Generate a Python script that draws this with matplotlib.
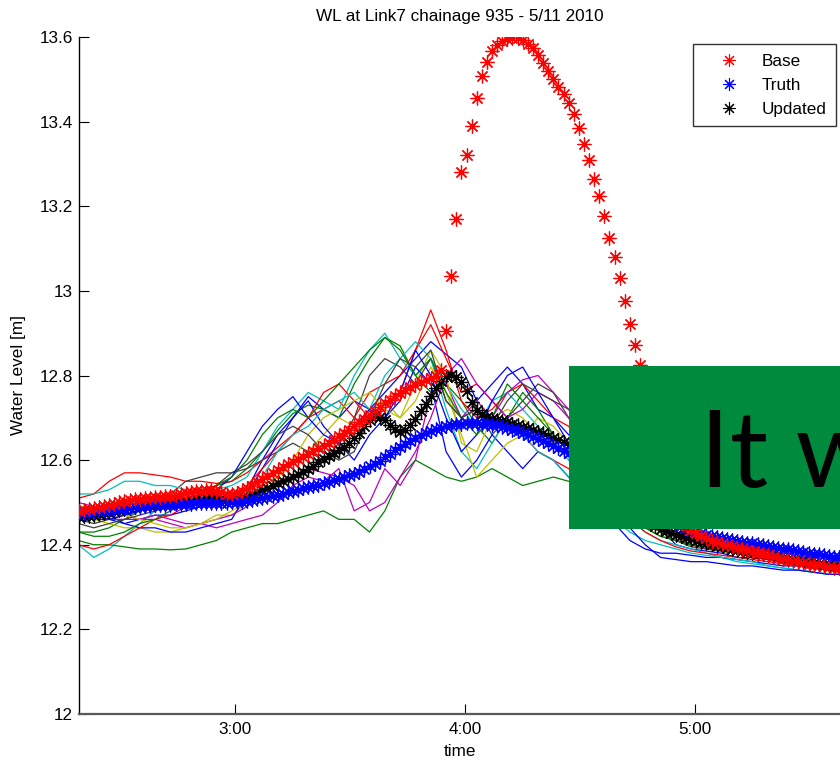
import numpy as np
import matplotlib
matplotlib.use('Agg')
import matplotlib.pyplot as plt
from matplotlib.patches import Rectangle
from matplotlib.lines import Line2D

# ---------------- data ----------------
title = "WL at Link7 chainage 935 - 5/11 2010"
x_tick_values = [3, 4, 5]
x_tick_labels = ["3:00", "4:00", "5:00"]
y_tick_values = [12.0, 12.2, 12.4, 12.6, 12.8, 13.0, 13.2, 13.4, 13.6]
y_tick_labels = ["12", "12.2", "12.4", "12.6", "12.8", "13", "13.2", "13.4", "13.6"]

t_start_h = 2 + 19 / 60      # 2:19
main_step_h = 80 / 3600      # 80 s sampling
ens_step_h = 240 / 3600      # 4 min sampling for ensemble members

base = [12.480, 12.482, 12.484, 12.487, 12.489, 12.491, 12.494, 12.497, 12.500, 12.503,
        12.505, 12.507, 12.508, 12.510, 12.511, 12.512, 12.513, 12.515, 12.516, 12.518,
        12.520, 12.522, 12.524, 12.526, 12.528, 12.529, 12.529, 12.527, 12.524, 12.521,
        12.520, 12.522, 12.527, 12.533, 12.540, 12.548, 12.555, 12.563, 12.570, 12.577,
        12.584, 12.590, 12.596, 12.602, 12.608, 12.614, 12.621, 12.628, 12.634, 12.641,
        12.648, 12.656, 12.664, 12.672, 12.680, 12.689, 12.698, 12.707, 12.716, 12.726,
        12.735, 12.743, 12.751, 12.758, 12.765, 12.772, 12.778, 12.784, 12.789, 12.794,
        12.800, 12.812, 12.905, 13.035, 13.170, 13.280, 13.322, 13.390, 13.455, 13.508,
        13.540, 13.568, 13.582, 13.590, 13.596, 13.598, 13.597, 13.592, 13.584, 13.573,
        13.557, 13.538, 13.519, 13.500, 13.481, 13.465, 13.445, 13.418, 13.384, 13.348,
        13.310, 13.265, 13.225, 13.176, 13.126, 13.080, 13.030, 12.975, 12.922, 12.873,
        12.825, 12.770, 12.718, 12.665, 12.615, 12.565, 12.522, 12.488, 12.464, 12.447,
        12.435, 12.427, 12.420, 12.415, 12.410, 12.406, 12.402, 12.399, 12.396, 12.393,
        12.390, 12.387, 12.384, 12.381, 12.378, 12.375, 12.372, 12.369, 12.366, 12.363,
        12.361, 12.359, 12.357, 12.355, 12.353, 12.351, 12.349, 12.348, 12.346, 12.345,
        12.344, 12.343]

truth = [12.475, 12.476, 12.477, 12.478, 12.480, 12.481, 12.482, 12.484, 12.485, 12.487,
         12.488, 12.489, 12.490, 12.491, 12.492, 12.493, 12.494, 12.495, 12.495, 12.496,
         12.496, 12.497, 12.497, 12.498, 12.498, 12.498, 12.498, 12.498, 12.498, 12.499,
         12.500, 12.501, 12.502, 12.504, 12.506, 12.508, 12.510, 12.513, 12.515, 12.518,
         12.521, 12.524, 12.527, 12.530, 12.533, 12.536, 12.539, 12.542, 12.545, 12.548,
         12.552, 12.556, 12.560, 12.564, 12.568, 12.573, 12.579, 12.585, 12.592, 12.599,
         12.607, 12.615, 12.623, 12.631, 12.639, 12.646, 12.653, 12.659, 12.664, 12.669,
         12.673, 12.677, 12.680, 12.683, 12.685, 12.686, 12.687, 12.687, 12.687, 12.686,
         12.685, 12.684, 12.682, 12.679, 12.675, 12.672, 12.669, 12.665, 12.660, 12.655,
         12.650, 12.645, 12.640, 12.634, 12.628, 12.622, 12.616, 12.610, 12.603, 12.596,
         12.588, 12.580, 12.571, 12.562, 12.553, 12.544, 12.535, 12.526, 12.517, 12.508,
         12.499, 12.491, 12.483, 12.475, 12.468, 12.461, 12.455, 12.449, 12.444, 12.439,
         12.433, 12.430, 12.427, 12.424, 12.421, 12.418, 12.416, 12.413, 12.411, 12.409,
         12.407, 12.405, 12.403, 12.401, 12.399, 12.397, 12.395, 12.393, 12.391, 12.389,
         12.387, 12.385, 12.383, 12.381, 12.379, 12.377, 12.375, 12.373, 12.372, 12.371,
         12.370, 12.369]

updated = [12.466, 12.467, 12.469, 12.470, 12.472, 12.474, 12.477, 12.479, 12.482, 12.485,
           12.487, 12.489, 12.491, 12.492, 12.494, 12.495, 12.497, 12.498, 12.499, 12.500,
           12.501, 12.503, 12.505, 12.507, 12.509, 12.511, 12.512, 12.512, 12.511, 12.510,
           12.510, 12.511, 12.513, 12.516, 12.520, 12.525, 12.530, 12.535, 12.540, 12.545,
           12.550, 12.555, 12.561, 12.567, 12.573, 12.579, 12.587, 12.595, 12.603, 12.610,
           12.617, 12.624, 12.632, 12.640, 12.652, 12.665, 12.680, 12.694, 12.704, 12.702,
           12.694, 12.684, 12.673, 12.666, 12.672, 12.684, 12.698, 12.715, 12.733, 12.752,
           12.770, 12.786, 12.798, 12.802, 12.797, 12.785, 12.764, 12.738, 12.718, 12.708,
           12.702, 12.698, 12.695, 12.692, 12.689, 12.686, 12.683, 12.679, 12.675, 12.671,
           12.667, 12.663, 12.658, 12.653, 12.648, 12.642, 12.636, 12.629, 12.620, 12.610,
           12.598, 12.585, 12.571, 12.557, 12.542, 12.528, 12.514, 12.501, 12.489, 12.478,
           12.468, 12.459, 12.451, 12.444, 12.438, 12.433, 12.428, 12.424, 12.420, 12.416,
           12.413, 12.410, 12.407, 12.404, 12.401, 12.398, 12.396, 12.393, 12.391, 12.388,
           12.386, 12.384, 12.381, 12.379, 12.377, 12.375, 12.373, 12.371, 12.369, 12.367,
           12.365, 12.363, 12.361, 12.359, 12.357, 12.355, 12.353, 12.351, 12.349, 12.348,
           12.347, 12.346]

# ensemble members (4-minute samples)
ens_b1 = [12.47, 12.46, 12.46, 12.45, 12.46, 12.47, 12.47, 12.48, 12.49, 12.50, 12.50,
          12.53, 12.60, 12.66, 12.70, 12.75, 12.72, 12.70,
          12.74, 12.72, 12.76, 12.80, 12.84, 12.88, 12.85, 12.82,
          12.74, 12.78, 12.82, 12.78, 12.72, 12.70, 12.66,
          12.62, 12.58, 12.55, 12.52, 12.48, 12.44, 12.40, 12.39,
          12.385, 12.38, 12.37, 12.37, 12.365, 12.36, 12.355, 12.35, 12.35, 12.345]
ens_g1 = [12.43, 12.43, 12.44, 12.46, 12.48, 12.50, 12.51, 12.52, 12.53, 12.54, 12.55,
          12.58, 12.62, 12.67, 12.71, 12.73, 12.72, 12.70,
          12.78, 12.84, 12.89, 12.87, 12.80, 12.76, 12.78, 12.74,
          12.68, 12.64, 12.70, 12.76, 12.72, 12.66, 12.62,
          12.58, 12.55, 12.52, 12.49, 12.46, 12.43, 12.41, 12.40,
          12.395, 12.39, 12.385, 12.38, 12.375, 12.37, 12.365, 12.36, 12.355, 12.35]
ens_r1 = [12.51, 12.52, 12.55, 12.57, 12.57, 12.565, 12.56, 12.55, 12.55, 12.545, 12.55,
          12.57, 12.60, 12.63, 12.66, 12.70, 12.72, 12.74,
          12.70, 12.76, 12.78, 12.80, 12.86, 12.955, 12.86, 12.74,
          12.70, 12.72, 12.76, 12.78, 12.74, 12.70, 12.68,
          12.64, 12.60, 12.56, 12.52, 12.48, 12.45, 12.42, 12.40,
          12.39, 12.385, 12.38, 12.375, 12.37, 12.365, 12.36, 12.355, 12.35, 12.345]
ens_c1 = [12.40, 12.37, 12.39, 12.42, 12.45, 12.48, 12.50, 12.52, 12.53, 12.53, 12.54,
          12.56, 12.62, 12.68, 12.72, 12.76, 12.74, 12.72,
          12.80, 12.86, 12.90, 12.84, 12.80, 12.84, 12.78, 12.72,
          12.68, 12.74, 12.76, 12.72, 12.68, 12.64, 12.60,
          12.56, 12.52, 12.49, 12.46, 12.43, 12.41, 12.40, 12.39,
          12.38, 12.37, 12.36, 12.355, 12.35, 12.345, 12.34, 12.335, 12.33, 12.33]
ens_m1 = [12.50, 12.49, 12.48, 12.47, 12.46, 12.46, 12.45, 12.44, 12.45, 12.44, 12.45,
          12.46, 12.47, 12.50, 12.54, 12.56, 12.55, 12.58,
          12.48, 12.50, 12.58, 12.54, 12.60, 12.76, 12.78, 12.70,
          12.74, 12.70, 12.76, 12.79, 12.80, 12.76, 12.72,
          12.68, 12.62, 12.57, 12.52, 12.48, 12.45, 12.43, 12.42,
          12.41, 12.40, 12.395, 12.39, 12.385, 12.38, 12.375, 12.37, 12.365, 12.36]
ens_y1 = [12.46, 12.46, 12.45, 12.44, 12.44, 12.43, 12.43, 12.44, 12.45, 12.47, 12.47,
          12.50, 12.54, 12.56, 12.60, 12.62, 12.66, 12.70,
          12.68, 12.72, 12.74, 12.70, 12.78, 12.86, 12.80, 12.64,
          12.62, 12.70, 12.72, 12.70, 12.66, 12.64, 12.62,
          12.58, 12.54, 12.51, 12.48, 12.45, 12.43, 12.41, 12.40,
          12.39, 12.385, 12.38, 12.375, 12.37, 12.365, 12.36, 12.355, 12.35, 12.35]
ens_k1 = [12.46, 12.45, 12.46, 12.47, 12.48, 12.50, 12.52, 12.55, 12.56, 12.57, 12.57,
          12.58, 12.60, 12.62, 12.64, 12.62, 12.60, 12.64,
          12.70, 12.80, 12.84, 12.82, 12.78, 12.84, 12.74, 12.70,
          12.72, 12.66, 12.70, 12.74, 12.78, 12.76, 12.70,
          12.64, 12.58, 12.54, 12.50, 12.46, 12.43, 12.41, 12.395,
          12.39, 12.385, 12.38, 12.375, 12.37, 12.365, 12.36, 12.355, 12.35, 12.345]
ens_b2 = [12.49, 12.48, 12.47, 12.45, 12.44, 12.44, 12.43, 12.43, 12.44, 12.45, 12.46,
          12.52, 12.58, 12.64, 12.70, 12.74, 12.68, 12.64,
          12.60, 12.66, 12.70, 12.74, 12.82, 12.78, 12.62, 12.56,
          12.60, 12.66, 12.62, 12.58, 12.62, 12.60, 12.56,
          12.52, 12.48, 12.45, 12.41, 12.39, 12.38, 12.38, 12.375,
          12.37, 12.37, 12.365, 12.36, 12.355, 12.35, 12.35, 12.345, 12.34, 12.34]
ens_g2 = [12.41, 12.40, 12.40, 12.395, 12.39, 12.39, 12.388, 12.39, 12.40, 12.41, 12.43,
          12.44, 12.45, 12.45, 12.46, 12.47, 12.48, 12.46,
          12.46, 12.43, 12.48, 12.56, 12.60, 12.58, 12.56, 12.55,
          12.56, 12.58, 12.56, 12.54, 12.55, 12.56, 12.55,
          12.54, 12.51, 12.48, 12.46, 12.44, 12.42, 12.41, 12.40,
          12.395, 12.39, 12.385, 12.38, 12.375, 12.37, 12.365, 12.36, 12.36, 12.355]
ens_r2 = [12.40, 12.39, 12.40, 12.42, 12.44, 12.46, 12.47, 12.49, 12.50, 12.52, 12.52,
          12.54, 12.58, 12.62, 12.66, 12.70, 12.76, 12.78,
          12.74, 12.70, 12.72, 12.76, 12.86, 12.92, 12.84, 12.76,
          12.78, 12.74, 12.70, 12.66, 12.62, 12.60, 12.58,
          12.55, 12.52, 12.49, 12.46, 12.43, 12.41, 12.395, 12.385,
          12.38, 12.375, 12.37, 12.365, 12.36, 12.355, 12.35, 12.345, 12.34, 12.34]
ens_c2 = [12.52, 12.52, 12.53, 12.55, 12.55, 12.54, 12.54, 12.53, 12.53, 12.52, 12.50,
          12.52, 12.56, 12.62, 12.66, 12.68, 12.72, 12.74,
          12.76, 12.72, 12.80, 12.84, 12.88, 12.84, 12.72, 12.62,
          12.58, 12.64, 12.70, 12.66, 12.62, 12.60, 12.56,
          12.52, 12.49, 12.46, 12.43, 12.41, 12.40, 12.39, 12.38,
          12.375, 12.37, 12.365, 12.36, 12.35, 12.345, 12.34, 12.335, 12.33, 12.33]
ens_m2 = [12.47, 12.47, 12.46, 12.46, 12.46, 12.47, 12.46, 12.45, 12.45, 12.46, 12.47,
          12.49, 12.52, 12.55, 12.56, 12.58, 12.57, 12.56,
          12.54, 12.48, 12.50, 12.56, 12.62, 12.70, 12.80, 12.84,
          12.78, 12.74, 12.70, 12.72, 12.76, 12.74, 12.70,
          12.66, 12.60, 12.55, 12.50, 12.46, 12.44, 12.43, 12.425,
          12.42, 12.41, 12.40, 12.395, 12.39, 12.385, 12.38, 12.375, 12.37, 12.365]
ens_y2 = [12.49, 12.49, 12.48, 12.47, 12.46, 12.45, 12.44, 12.44, 12.45, 12.46, 12.48,
          12.50, 12.52, 12.56, 12.60, 12.66, 12.70, 12.72,
          12.74, 12.76, 12.72, 12.70, 12.74, 12.82, 12.76, 12.66,
          12.56, 12.60, 12.64, 12.66, 12.70, 12.68, 12.64,
          12.60, 12.55, 12.51, 12.47, 12.44, 12.42, 12.41, 12.40,
          12.395, 12.39, 12.385, 12.38, 12.375, 12.37, 12.365, 12.36, 12.355, 12.35]
ens_k2 = [12.45, 12.44, 12.45, 12.46, 12.47, 12.48, 12.49, 12.50, 12.52, 12.54, 12.57,
          12.59, 12.62, 12.66, 12.68, 12.66, 12.62, 12.60,
          12.62, 12.70, 12.78, 12.84, 12.82, 12.86, 12.74, 12.70,
          12.72, 12.68, 12.74, 12.78, 12.76, 12.74, 12.72,
          12.66, 12.60, 12.55, 12.50, 12.46, 12.43, 12.41, 12.40,
          12.395, 12.39, 12.385, 12.38, 12.375, 12.37, 12.365, 12.36, 12.355, 12.35]
ens_b3 = [12.48, 12.47, 12.46, 12.47, 12.48, 12.49, 12.50, 12.51, 12.52, 12.53, 12.56,
          12.62, 12.68, 12.72, 12.75, 12.70, 12.66, 12.64,
          12.68, 12.72, 12.70, 12.76, 12.86, 12.80, 12.70, 12.62,
          12.66, 12.74, 12.80, 12.82, 12.76, 12.70, 12.64,
          12.58, 12.53, 12.49, 12.44, 12.40, 12.37, 12.365, 12.36,
          12.36, 12.355, 12.35, 12.35, 12.345, 12.34, 12.34, 12.335, 12.33, 12.33]
ens_g3 = [12.43, 12.42, 12.42, 12.43, 12.45, 12.46, 12.48, 12.50, 12.52, 12.54, 12.56,
          12.60, 12.66, 12.70, 12.72, 12.70, 12.74, 12.78,
          12.82, 12.86, 12.89, 12.86, 12.80, 12.84, 12.76, 12.70,
          12.66, 12.70, 12.78, 12.74, 12.70, 12.66, 12.62,
          12.58, 12.54, 12.50, 12.47, 12.44, 12.42, 12.41, 12.40,
          12.395, 12.39, 12.385, 12.38, 12.375, 12.37, 12.365, 12.36, 12.355, 12.35]

legend_labels = ["Base", "Truth", "Updated"]
overlay_text = "It w"

# ---------------- styling ----------------
W, H = 840, 762
plt.rcParams['font.family'] = ['Liberation Sans', 'DejaVu Sans']
FS = 12.3

C_B = (0, 0, 1)
C_G = (0, 0.5, 0)
C_R = (1, 0, 0)
C_C = (0, 0.75, 0.75)
C_M = (0.75, 0, 0.75)
C_Y = (0.75, 0.75, 0)
C_K = (0.25, 0.25, 0.25)

members = [(ens_b1, C_B), (ens_g1, C_G), (ens_r1, C_R), (ens_c1, C_C), (ens_m1, C_M),
           (ens_y1, C_Y), (ens_k1, C_K), (ens_b2, C_B), (ens_g2, C_G), (ens_r2, C_R),
           (ens_c2, C_C), (ens_m2, C_M), (ens_y2, C_Y), (ens_k2, C_K), (ens_b3, C_B),
           (ens_g3, C_G)]

fig = plt.figure(figsize=(W / 100, H / 100), dpi=100)
px_per_h = 229.75
ax_left_px, ax_right_px = 78.5, 900.0
ax_bottom_px, ax_top_px = 714.0, 37.0
ax = fig.add_axes([ax_left_px / W, 1 - ax_bottom_px / H,
                   (ax_right_px - ax_left_px) / W, (ax_bottom_px - ax_top_px) / H])

t_main = t_start_h + main_step_h * np.arange(len(base))
t_ens = t_start_h + ens_step_h * np.arange(len(ens_b1))

for vals, col in members:
    ax.plot(t_ens, vals, color=col, lw=0.9, zorder=2)

star = (8, 2, 0)
ax.plot(t_main, updated, ls='none', marker=star, ms=10, mew=0.9, color='k', zorder=3)
ax.plot(t_main, truth, ls='none', marker=star, ms=10, mew=0.9, color='b', zorder=4)
ax.plot(t_main, base, ls='none', marker=star, ms=10, mew=0.9, color='r', zorder=5)

ax.set_xticks(x_tick_values)
ax.set_xticklabels(x_tick_labels)
ax.set_yticks(y_tick_values)
ax.set_yticklabels(y_tick_labels)
ax.set_xlim(t_start_h, t_start_h + (ax_right_px - ax_left_px) / px_per_h)
ax.set_ylim(12.0, 13.6)
ax.tick_params(direction='in', length=7, width=0.8, labelsize=FS, colors='k')
ax.tick_params(axis='y', pad=4)
ax.tick_params(axis='x', pad=6)
for s in ['top', 'right']:
    ax.spines[s].set_visible(False)
ax.spines['left'].set_linewidth(1.0)
ax.spines['bottom'].set_linewidth(1.6)
ax.spines['bottom'].set_color('0.35')

fig.text(459.5 / W, 1 - 17 / H, title, ha='center', va='center', fontsize=FS)
fig.text(19 / W, 1 - 375 / H, "Water Level [m]", rotation=90, ha='center', va='center', fontsize=FS)
fig.text(460 / W, 1 - 751 / H, "time", ha='center', va='center', fontsize=FS)

handles = [Line2D([], [], ls='none', marker=star, ms=9, mew=0.8, color=c)
           for c in ['r', 'b', 'k']]
leg = ax.legend(handles, legend_labels, loc='upper right',
                bbox_to_anchor=(836 / W, 1 - 44 / H), bbox_transform=fig.transFigure,
                fontsize=FS, frameon=True, fancybox=False, borderpad=0.56,
                labelspacing=0.53, handlelength=3.1, handletextpad=0.38,
                borderaxespad=0)
leg.get_frame().set_edgecolor('k')
leg.get_frame().set_linewidth(1.0)
leg.set_zorder(10)

rect = Rectangle((569 / W, 1 - 529 / H), (W - 569) / W + 0.01, (529 - 366) / H,
                 transform=fig.transFigure, facecolor='#008A3E', edgecolor='none', zorder=20)
fig.add_artist(rect)
fig.text(700 / W, 1 - 487 / H, overlay_text, ha='left', va='baseline', fontsize=77,
         family=['Lato', 'DejaVu Sans'], fontweight='normal', color='k', zorder=21)

fig.savefig('out.png', dpi=100)
